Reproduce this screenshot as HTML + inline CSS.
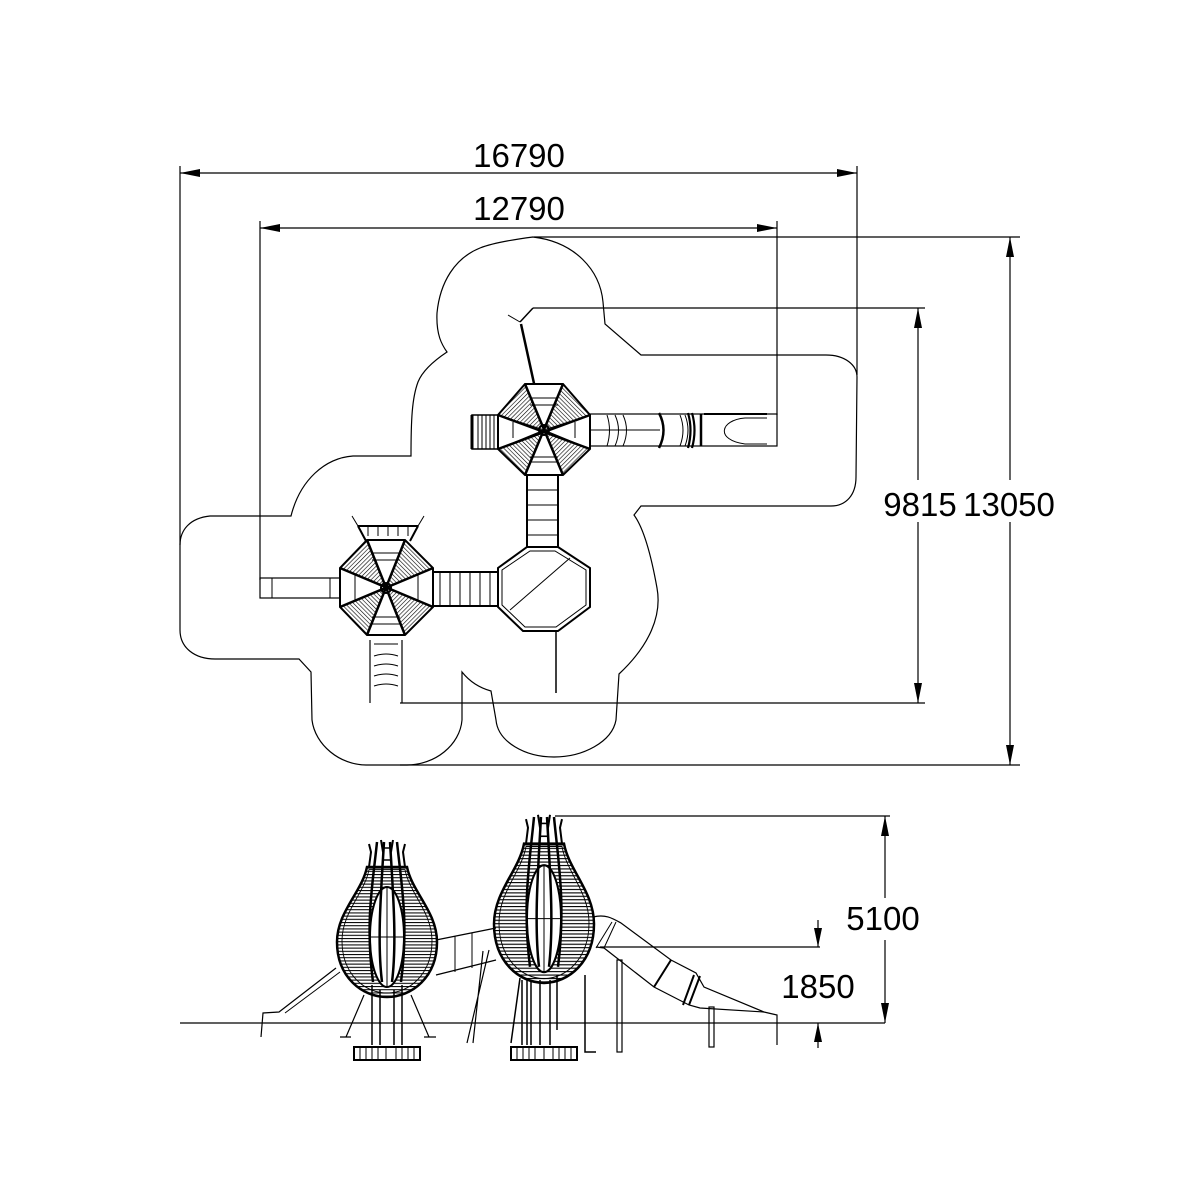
<!DOCTYPE html>
<html><head><meta charset="utf-8"><style>
html,body{margin:0;padding:0;background:#fff;}
svg{display:block;}
text{font-family:"Liberation Sans",sans-serif;font-size:33px;fill:#000;}
</style></head><body>
<svg width="1201" height="1201" viewBox="0 0 1201 1201" xmlns="http://www.w3.org/2000/svg">
<defs>
<pattern id="hx" width="3" height="3" patternUnits="userSpaceOnUse" patternTransform="rotate(45)"><line x1="0" y1="0" x2="0" y2="3" stroke="#000" stroke-width="1.2"/></pattern>
<pattern id="hy" width="3" height="3" patternUnits="userSpaceOnUse" patternTransform="rotate(-45)"><line x1="0" y1="0" x2="0" y2="3" stroke="#000" stroke-width="1.2"/></pattern>
<pattern id="hh" width="4" height="3.2" patternUnits="userSpaceOnUse"><line x1="0" y1="0.5" x2="4" y2="0.5" stroke="#000" stroke-width="1.1"/></pattern>
<g id="bulb">
 <path d="M-20,25 C-25,50 -50,70 -50,100 C-50,135 -25,155 0,155 C25,155 50,135 50,100 C50,70 25,50 20,25 Z" fill="url(#hh)" stroke="#000" stroke-width="2.5"/>
 <path d="M-20,25 C-25,50 -50,70 -50,100 C-50,135 -25,155 0,155 C25,155 50,135 50,100 C50,70 25,50 20,25 Z" fill="none" stroke="#000" stroke-width="1" transform="scale(0.9,0.95) translate(0,4)"/>
 <ellipse cx="0" cy="95" rx="17" ry="50" fill="#fff" stroke="#000" stroke-width="2"/>
 <line x1="0" y1="45" x2="0" y2="145" stroke="#000"/>
 <line x1="-16" y1="95" x2="16" y2="95" stroke="#000"/>
 <path d="M-10,0 C-14,40 -22,80 -14,140 M10,0 C14,40 22,80 14,140 M-3,0 C-6,50 -10,100 -5,140 M3,0 C6,50 10,100 5,140" fill="none" stroke="#000" stroke-width="2.5"/>
 <path d="M-18,2 L-16,10 L-18,25 M18,2 L16,10 L18,25 M-6,-2 L-4,10 M6,-2 L4,10" fill="none" stroke="#000" stroke-width="2"/>
 <rect x="-4" y="6" width="8" height="12" fill="none" stroke="#000" stroke-width="1.5"/>
 <line x1="-20" y1="25" x2="20" y2="25" stroke="#000" stroke-width="1.5"/>
</g>
</defs>

<g stroke="#000" fill="none" stroke-width="1.2">
<!-- 16790 -->
<line x1="180" y1="173" x2="857" y2="173"/>
<line x1="180" y1="166" x2="180" y2="545"/>
<line x1="857" y1="166" x2="857" y2="375"/>
<!-- 12790 -->
<line x1="260" y1="228" x2="777" y2="228"/>
<line x1="260" y1="221" x2="260" y2="580"/>
<line x1="777" y1="221" x2="777" y2="415"/>
<!-- 13050 -->
<line x1="534" y1="237" x2="1020" y2="237"/>
<line x1="400" y1="765" x2="1020" y2="765"/>
<line x1="1010" y1="237" x2="1010" y2="480"/>
<line x1="1010" y1="522" x2="1010" y2="765"/>
<!-- 9815 -->
<line x1="533" y1="308" x2="925" y2="308"/>
<line x1="400" y1="703" x2="925" y2="703"/>
<line x1="918" y1="308" x2="918" y2="480"/>
<line x1="918" y1="522" x2="918" y2="703"/>
</g>
<g fill="#000">
<polygon points="180,173 200,169 200,177"/><polygon points="857,173 837,169 837,177"/>
<polygon points="260,228 280,224 280,232"/><polygon points="777,228 757,224 757,232"/>
<polygon points="1010,237 1006,257 1014,257"/><polygon points="1010,765 1006,745 1014,745"/>
<polygon points="918,308 914,328 922,328"/><polygon points="918,703 914,683 922,683"/>
</g>
<text x="519" y="167" text-anchor="middle">16790</text>
<text x="519" y="220" text-anchor="middle">12790</text>
<text x="920" y="516" text-anchor="middle">9815</text>
<text x="1009" y="516" text-anchor="middle">13050</text>

<!-- cloud outline -->
<path d="M533,237 C510,240 490,244 480,248 C455,258 440,282 437,313 C436,335 442,345 447,352 C432,362 422,372 418,382 C412,398 411,420 411,456 L353,456 C325,458 300,480 291,516 L210,516 C190,518 180,530 180,545 L180,630 C180,648 195,659 215,659 L299,659 L311,672 L312,720 C315,745 340,765 366,765 L407,765 C435,765 460,745 462,720 L462,672 C470,682 480,688 491,691 L496,720 C498,742 525,757 554,757 C583,757 612,742 616,720 L619,674 C650,645 662,615 657,588 C652,560 645,530 634,515 L641,506 L831,506 C846,506 856,495 856,477 L857,377 C857,365 845,355 826,355 L641,355 L605,324 L603,302 C600,270 575,242 533,237 Z" fill="none" stroke="#000" stroke-width="1.2"/>

<!-- Tower 1 (top) -->
<g stroke="#000" fill="none">
<line x1="508" y1="315" x2="520" y2="322" stroke-width="1"/>
<line x1="520" y1="322" x2="533" y2="308" stroke-width="1.5"/>
<line x1="521" y1="324" x2="535" y2="388" stroke-width="2.5"/>
<!-- slide right -->
<rect x="590" y="414" width="187" height="32" stroke-width="1.2"/>
<line x1="590" y1="430" x2="660" y2="430"/>
<path d="M607,415 Q612,430 607,446 M615,415 Q622,430 615,446 M623,415 Q630,430 623,446"/>
<path d="M659,413 Q668,430 659,448" stroke-width="2.5"/>
<path d="M680,415 Q686,430 680,446 M685,415 Q691,430 685,446"/>
<path d="M688,413 Q693,430 688,448 M692,413 Q697,430 692,448" stroke-width="2.2"/>
<line x1="701" y1="414" x2="701" y2="446" stroke-width="2.5"/>
<path d="M767,418 L745,418 C720,420 715,440 745,444 L767,444" stroke-width="1"/>
<line x1="704" y1="414" x2="767" y2="414" stroke-width="2"/>
<!-- left steps -->
<rect x="472" y="415" width="26" height="34" stroke-width="1.5"/>
<line x1="472" y1="415" x2="472" y2="449" stroke-width="3"/>
<path d="M478,415 V449 M482,415 V449 M486,415 V449 M490,415 V449 M494,415 V449"/>
<!-- bridge down -->
<rect x="527" y="475" width="31" height="72" stroke-width="2"/>
<path d="M527,490 H558 M527,505 H558 M527,520 H558 M527,535 H558"/>
<!-- octagon -->
<polygon points="525,384 563,384 590,415 590,449 563,475 525,475 498,449 498,415" fill="#fff" stroke-width="2"/>
<polygon points="563,384 590,415 544,430" fill="url(#hy)" stroke-width="1"/>
<polygon points="525,384 498,415 544,430" fill="url(#hx)" stroke-width="1"/>
<polygon points="590,449 563,475 544,430" fill="url(#hx)" stroke-width="1"/>
<polygon points="498,449 525,475 544,430" fill="url(#hy)" stroke-width="1"/>
<path d="M525,384 L563,475 M563,384 L525,475 M498,415 L590,449 M590,415 L498,449" stroke-width="2.5"/>
<path d="M530,398 H558 M530,405 H558 M513,422 V438 M575,422 V438 M530,457 H558 M530,462 H558"/>
<circle cx="544" cy="430" r="5" stroke-width="2"/>
</g>

<!-- hollow octagon -->
<g stroke="#000" fill="none">
<polygon points="527,547 558,547 590,568 590,607 558,631 523,631 498,607 498,568" stroke-width="2"/>
<polygon points="530,551 555,551 586,570 586,605 556,627 525,627 502,605 502,570" stroke-width="1"/>
<line x1="510" y1="610" x2="570" y2="558" stroke-width="1"/>
<line x1="556" y1="631" x2="556" y2="693" stroke-width="1.5"/>
<!-- bridge horizontal -->
<rect x="428" y="572" width="70" height="34" stroke-width="2"/>
<path d="M440,572 V606 M450,572 V606 M460,572 V606 M470,572 V606 M480,572 V606 M490,572 V606"/>
</g>

<!-- Tower 2 -->
<g stroke="#000" fill="none">
<rect x="260" y="578" width="80" height="20" stroke-width="1.2"/>
<line x1="272" y1="578" x2="272" y2="598"/><line x1="330" y1="578" x2="330" y2="598"/>
<path d="M352,516 L358,526 L418,526 L424,516" stroke-width="1"/>
<path d="M358,526 H418 M366,541 L358,526 M410,541 L418,526" stroke-width="2"/>
<path d="M368,526 V536 M378,526 V536 M388,526 V536 M398,526 V536 M408,526 V536"/>
<path d="M370,703 V640 M402,703 V640" stroke-width="1.2"/>
<path d="M374,644 H398 M374,656 Q386,652 398,656 M374,666 Q386,662 398,666 M374,676 Q386,672 398,676 M374,686 Q386,682 398,686"/>
<polygon points="367,540 405,540 433,568 433,607 405,635 367,635 340,607 340,568" fill="#fff" stroke-width="2"/>
<polygon points="405,540 433,568 386,588" fill="url(#hy)" stroke-width="1"/>
<polygon points="367,540 340,568 386,588" fill="url(#hx)" stroke-width="1"/>
<polygon points="433,607 405,635 386,588" fill="url(#hx)" stroke-width="1"/>
<polygon points="340,607 367,635 386,588" fill="url(#hy)" stroke-width="1"/>
<path d="M367,540 L405,635 M405,540 L367,635 M340,568 L433,607 M433,568 L340,607" stroke-width="2.5"/>
<path d="M372,553 H400 M372,560 H400 M355,575 V600 M418,575 V600 M372,617 H400 M372,624 H400"/>
<circle cx="386" cy="588" r="5" stroke-width="2"/>
</g>

<!-- side view -->
<g stroke="#000" fill="none">
<line x1="180" y1="1023" x2="885" y2="1023" stroke-width="1.2"/>
<!-- left slide -->
<path d="M336,968 L279,1012 L263,1013 L261,1037" stroke-width="1.2"/>
<path d="M340,972 L285,1013" stroke-width="1"/>
<!-- tube between -->
<path d="M436,940 L496,928 M436,975 L496,960" stroke-width="1.2"/>
<path d="M455,936 V972 M472,933 V968" stroke-width="1"/>
<path d="M483,951 L473,1043 M489,950 L467,1043" stroke-width="1.2"/>
<!-- right slide -->
<path d="M593,917 C605,914 612,918 621,923 L671,960 L696,973 L704,987 L764,1012 L777,1015 L777,1045" stroke-width="1.2"/>
<path d="M596,947 L604,948 L654,987 L689,1005 L700,1008 L764,1012" stroke-width="1.2"/>
<path d="M654,987 L671,960 M683,1005 L694,975 M689,1005 L700,976" stroke-width="2"/>
<path d="M596,948 L612,922 M604,948 L616,922" stroke-width="1"/>
<rect x="617" y="960" width="5" height="92" stroke-width="1.2"/>
<rect x="709" y="1007" width="5" height="40" stroke-width="1.2"/>
<!-- bulb1 legs -->
<path d="M364,995 L346,1037 M411,995 L429,1037 M340,1037 H351 M424,1037 H436" stroke-width="1.2"/>
<path d="M372,985 V1045 M380,990 V1045 M394,990 V1045 M402,985 V1045" stroke-width="1.5"/>
<rect x="354" y="1047" width="66" height="13" stroke-width="2"/>
<path d="M360,1048 V1059 M366,1048 V1059 M372,1048 V1059 M378,1048 V1059 M396,1048 V1059 M402,1048 V1059 M408,1048 V1059 M414,1048 V1059 M386,1048 V1059" stroke-width="1"/>
<!-- bulb2 legs -->
<path d="M520,978 L511,1043 M557,975 L557,1030 M585,975 V1052 H596" stroke-width="1.5"/>
<path d="M522,980 V1045 M527,980 V1045 M531,980 V1045 M540,980 V1045 M550,980 V1045" stroke-width="1.5"/>
<rect x="511" y="1047" width="66" height="13" stroke-width="2"/>
<path d="M517,1048 V1059 M523,1048 V1059 M529,1048 V1059 M535,1048 V1059 M553,1048 V1059 M559,1048 V1059 M565,1048 V1059 M571,1048 V1059 M544,1048 V1059" stroke-width="1"/>
</g>
<use href="#bulb" transform="translate(387,842)"/>
<use href="#bulb" transform="translate(544,817) scale(1,1.07)"/>

<!-- side dimensions -->
<g stroke="#000" fill="none" stroke-width="1.2">
<line x1="555" y1="816" x2="890" y2="816"/>
<line x1="885" y1="816" x2="885" y2="898"/>
<line x1="885" y1="940" x2="885" y2="1023"/>
<line x1="600" y1="947" x2="820" y2="947"/>
<line x1="818" y1="920" x2="818" y2="947"/>
<line x1="818" y1="1023" x2="818" y2="1048"/>
</g>
<g fill="#000">
<polygon points="885,816 881,836 889,836"/><polygon points="885,1023 881,1003 889,1003"/>
<polygon points="818,947 814,928 822,928"/><polygon points="818,1023 814,1042 822,1042"/>
</g>
<text x="883" y="930" text-anchor="middle">5100</text>
<text x="818" y="998" text-anchor="middle">1850</text>
</svg>
</body></html>
